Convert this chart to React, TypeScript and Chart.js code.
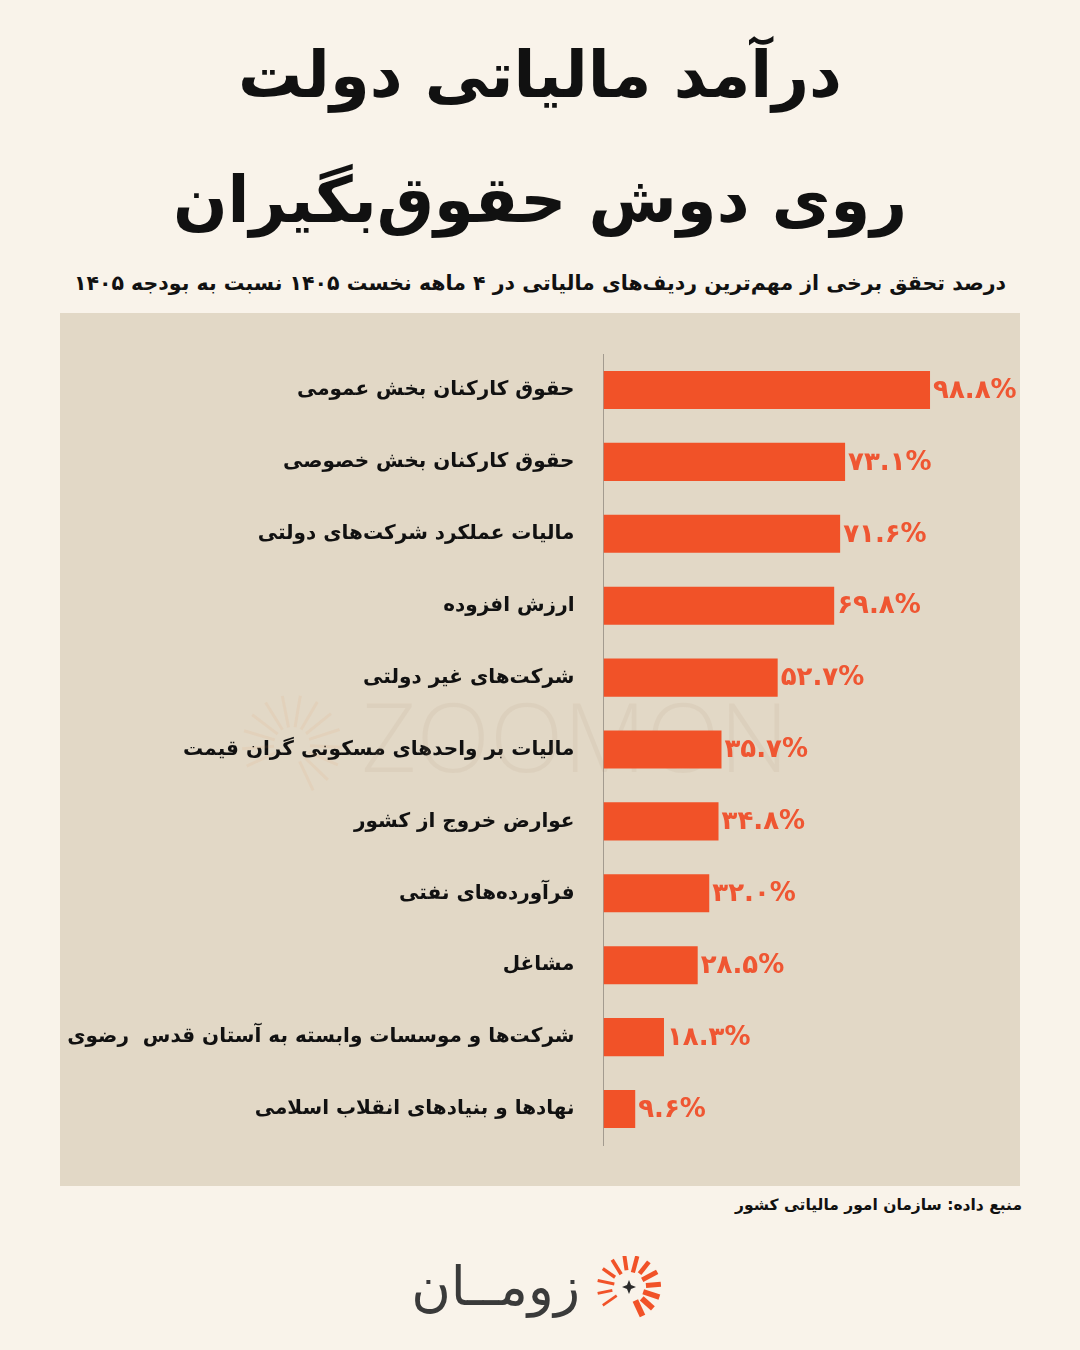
import React, { useEffect, useRef } from "react";
import { Chart, registerables } from "chart.js";

Chart.register(...registerables);

const categories: string[] = [
  "حقوق کارکنان بخش عمومی",
  "حقوق کارکنان بخش خصوصی",
  "مالیات عملکرد شرکت‌های دولتی",
  "ارزش افزوده",
  "شرکت‌های غیر دولتی",
  "مالیات بر واحدهای مسکونی گران قیمت",
  "عوارض خروج از کشور",
  "فرآورده‌های نفتی",
  "مشاغل",
  "شرکت‌ها و موسسات وابسته به آستان قدس  رضوی",
  "نهادها و بنیادهای انقلاب اسلامی",
];

const values: number[] = [98.8, 73.1, 71.6, 69.8, 52.7, 35.7, 34.8, 32.0, 28.5, 18.3, 9.6];

const titleLine1 = "درآمد مالیاتی دولت";
const titleLine2 = "روی دوش حقوق‌بگیران";
const subtitle = "درصد تحقق برخی از مهم‌ترین ردیف‌های مالیاتی در ۴ ماهه نخست ۱۴۰۵ نسبت به بودجه ۱۴۰۵";
const sourceText = "منبع داده: سازمان امور مالیاتی کشور";
const logoText = "زومــان";
const watermark = "ZOOMON";

const PAGE_BG = "#f9f3ea";
const PANEL_BG = "#e2d8c6";
const BAR = "#f15228";
const VALUE_COLOR = "#ef5632";
const FONT = "'DejaVu Sans', 'Noto Sans', sans-serif";

const toFa = (s: string) => s.replace(/\d/g, (d) => "۰۱۲۳۴۵۶۷۸۹"[+d]);

const valueLabels = {
  id: "valueLabels",
  afterDatasetsDraw(chart: any) {
    const ctx = chart.ctx;
    const meta = chart.getDatasetMeta(0);
    ctx.save();
    ctx.font = `bold 26px ${FONT}`;
    ctx.fillStyle = VALUE_COLOR;
    ctx.textAlign = "left";
    ctx.textBaseline = "middle";
    ctx.direction = "ltr";
    meta.data.forEach((bar: any, i: number) => {
      const v = chart.data.datasets[0].data[i] as number;
      ctx.fillText(toFa(v.toFixed(1)) + "%", bar.x + 3, bar.y + 1);
    });
    ctx.restore();
  },
};

const watermarkPlugin = {
  id: "watermark",
  beforeDatasetsDraw(chart: any) {
    const ctx = chart.ctx;
    ctx.save();
    ctx.font = `300 96px 'Open Sans', ${FONT}`;
    ctx.fillStyle = "rgba(170,150,120,0.11)";
    ctx.textAlign = "center";
    ctx.textBaseline = "middle";
    ctx.fillText(watermark, 515, 432);
    ctx.strokeStyle = "rgba(230,150,90,0.10)";
    ctx.lineWidth = 3;
    const cx = 232, cy = 432;
    for (let i = 0; i < 14; i++) {
      const deg = 245 + (270 * i) / 13;
      const a = ((deg - 90) * Math.PI) / 180;
      ctx.beginPath();
      ctx.moveTo(cx + 18 * Math.cos(a), cy + 18 * Math.sin(a));
      ctx.lineTo(cx + 50 * Math.cos(a), cy + 50 * Math.sin(a));
      ctx.stroke();
    }
    ctx.restore();
  },
};

function Logo() {
  const rays: JSX.Element[] = [];
  const cx = 33, cy = 31;
  const n = 13;
  for (let i = 0; i < n; i++) {
    const startDeg = 235;
    const span = 280;
    const deg = startDeg + (span * i) / (n - 1);
    const a = ((deg - 90) * Math.PI) / 180;
    const r1 = 15 + (i % 2) * 2, r2 = 32;
    const w = 2.5 + (i / (n - 1)) * 3.5;
    rays.push(
      <line
        key={i}
        x1={cx + r1 * Math.cos(a)}
        y1={cy + r1 * Math.sin(a)}
        x2={cx + r2 * Math.cos(a)}
        y2={cy + r2 * Math.sin(a)}
        stroke={BAR}
        strokeWidth={w}
      />
    );
  }
  return (
    <svg width={68} height={68} viewBox="0 0 68 68" style={{ position: "absolute", left: 596, top: 1256 }}>
      {rays}
      <path d={`M${cx} ${cy - 7} L${cx + 2} ${cy - 2} L${cx + 7} ${cy} L${cx + 2} ${cy + 2} L${cx} ${cy + 7} L${cx - 2} ${cy + 2} L${cx - 7} ${cy} L${cx - 2} ${cy - 2} Z`} fill="#2b2b2b" />
    </svg>
  );
}

export default function App() {
  const ref = useRef<HTMLCanvasElement | null>(null);

  useEffect(() => {
    if (!ref.current) return;
    const chart = new Chart(ref.current, {
      type: "bar",
      data: {
        labels: categories,
        datasets: [
          {
            data: values,
            backgroundColor: BAR,
            borderWidth: 0,
            barPercentage: 0.53,
            categoryPercentage: 1,
          },
        ],
      },
      options: {
        indexAxis: "y",
        animation: false,
        responsive: false,
        devicePixelRatio: 1,
        layout: { padding: { top: 37, bottom: 40, right: 86, left: 0 } },
        plugins: {
          legend: { display: false },
          tooltip: { enabled: false },
          title: { display: false },
        },
        scales: {
          x: {
            display: false,
            min: 0,
            max: 100,
          },
          y: {
            afterFit: (scale: any) => {
              scale.width = 543.5;
            },
            grid: { display: false, drawTicks: false },
            border: { display: true, color: "#a39b8f", width: 1 },
            ticks: {
              padding: 29,
              color: "#111",
              font: { family: FONT, size: 20, weight: "bold" },
            },
          },
        },
      },
      plugins: [watermarkPlugin, valueLabels],
    });
    return () => chart.destroy();
  }, []);

  return (
    <div style={{ position: "absolute", left: 0, top: 0, width: 1080, height: 1350, background: PAGE_BG, overflow: "hidden", fontFamily: FONT }}>
      <div dir="rtl" style={{ position: "absolute", left: 0, top: 30, width: 1080, textAlign: "center", fontWeight: "bold", fontSize: 64, lineHeight: "90px", color: "#111" }}>
        {titleLine1}
      </div>
      <div dir="rtl" style={{ position: "absolute", left: 0, top: 155, width: 1080, textAlign: "center", fontWeight: "bold", fontSize: 64, lineHeight: "90px", color: "#111" }}>
        {titleLine2}
      </div>
      <div dir="rtl" style={{ position: "absolute", left: 40, top: 265, width: 1000, textAlign: "center", fontWeight: "bold", fontSize: 20.5, lineHeight: "36px", color: "#111", whiteSpace: "nowrap" }}>
        {subtitle}
      </div>
      <canvas ref={ref} width={960} height={873} style={{ position: "absolute", left: 60, top: 313, width: 960, height: 873, background: PANEL_BG }} />
      <div dir="rtl" style={{ position: "absolute", right: 58, top: 1191, fontWeight: "bold", fontSize: 15.5, lineHeight: "28px", color: "#111", whiteSpace: "nowrap" }}>
        {sourceText}
      </div>
      <div dir="rtl" style={{ position: "absolute", right: 500, top: 1252, textAlign: "right", fontSize: 54, lineHeight: "70px", color: "#3a3a3a", whiteSpace: "nowrap" }}>
        {logoText}
      </div>
      <Logo />
    </div>
  );
}
